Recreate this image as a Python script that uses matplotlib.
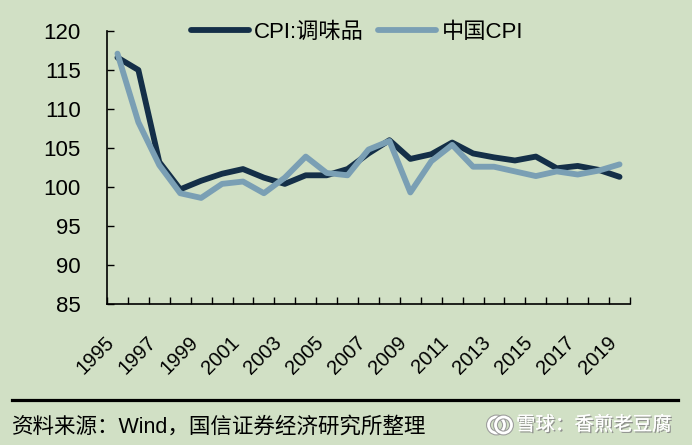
import matplotlib
matplotlib.use("Agg")
import matplotlib.pyplot as plt
import matplotlib.patheffects as pe
import matplotlib.transforms as mtransforms
from matplotlib.patches import Circle
import numpy as np

plt.rcParams['font.family'] = ['Liberation Sans', 'Noto Sans CJK SC', 'DejaVu Sans']

years = list(range(1995, 2020))
cpi_seasoning = [116.6, 115.0, 103.2, 99.7, 100.8, 101.7, 102.3, 101.2, 100.4, 101.5,
                 101.5, 102.3, 104.3, 106.0, 103.6, 104.2, 105.7, 104.3, 103.8, 103.4,
                 103.9, 102.4, 102.7, 102.2, 101.3]
cpi_china = [117.1, 108.3, 102.8, 99.2, 98.6, 100.4, 100.7, 99.2, 101.2, 103.9,
             101.8, 101.5, 104.8, 105.9, 99.3, 103.3, 105.4, 102.6, 102.6, 102.0,
             101.4, 102.0, 101.6, 102.1, 102.9]
label_series1 = "CPI:调味品"
label_series2 = "中国CPI"
yticks = [85, 90, 95, 100, 105, 110, 115, 120]
source_text = "资料来源：Wind，国信证券经济研究所整理"
watermark_text = "雪球：香煎老豆腐"

bg = '#d1e0c5'
dark = '#142f48'
light = '#7a9fb4'

W, H = 692, 445
fig = plt.figure(figsize=(6.92, 4.45), dpi=100, facecolor=bg)
ax = fig.add_axes([107 / W, 1 - 304 / H, (630 - 107) / W, (304 - 31) / H], facecolor=bg)

x = np.arange(len(years))
ax.plot(x, cpi_seasoning, color=dark, lw=4.2, label=label_series1,
        solid_capstyle='round', solid_joinstyle='round', zorder=3)
ax.plot(x, cpi_china, color=light, lw=4.2, label=label_series2,
        solid_capstyle='round', solid_joinstyle='round', zorder=4)

ax.set_xlim(-0.5, len(years) - 0.5)
ax.set_ylim(85, 120)
ax.set_yticks(yticks)
ax.set_yticklabels([str(v) for v in yticks], fontsize=16)
ax.tick_params(axis='y', direction='in', length=5, width=1, pad=19)

# ticks at category boundaries
ax.set_xticks(np.arange(-0.5, len(years), 1.0), minor=False)
ax.set_xticklabels([])
ax.tick_params(axis='x', which='major', direction='in', length=5, width=1)
ax.set_xticks(x[::2], minor=True)
ax.set_xticklabels([str(y) for y in years[::2]], minor=True, rotation=45,
                   ha='right', va='top', rotation_mode='anchor', fontsize=14.5)
ax.tick_params(axis='x', which='minor', length=0, pad=15)
offset = mtransforms.ScaledTranslation(-0.13, -0.08, fig.dpi_scale_trans)
for lab in ax.get_xticklabels(minor=True):
    lab.set_transform(lab.get_transform() + offset)

for s in ['top', 'right']:
    ax.spines[s].set_visible(False)
for s in ['left', 'bottom']:
    ax.spines[s].set_color('black')
    ax.spines[s].set_linewidth(1.2)

leg = ax.legend(loc='center', bbox_to_anchor=(0.478, 0.995), ncol=2, frameon=False,
                fontsize=16, handlelength=2.6, handletextpad=0.25, columnspacing=0.65,
                borderpad=0, borderaxespad=0)
for h in leg.get_lines():
    h.set_linewidth(4.2)
    h.set_solid_capstyle('round')

fig.add_artist(plt.Line2D([12 / W, 678 / W], [1 - 400 / H, 1 - 400 / H], color='black', lw=2.3,
                          transform=fig.transFigure))
fig.text(12 / W, 1 - 427 / H, source_text, fontsize=15.5, va='center', ha='left', color='black')

shadow = [pe.withSimplePatchShadow(offset=(1, -1), shadow_rgbFace='#8a8a8a', alpha=0.9), pe.Normal()]
fig.text(672 / W, 1 - 425 / H, watermark_text, fontsize=14, va='center', ha='right', color='white',
         path_effects=shadow)
stroke = [pe.withStroke(linewidth=3.5, foreground='#9a9a9a')]
for dx in (-0.035, 0.035):
    c = Circle((5.0 + dx, (H - 425) / 100), 0.08, transform=fig.dpi_scale_trans, fill=False,
               edgecolor='white', lw=2.0, path_effects=stroke)
    fig.add_artist(c)

fig.savefig('out.png', dpi=100, facecolor=bg)
